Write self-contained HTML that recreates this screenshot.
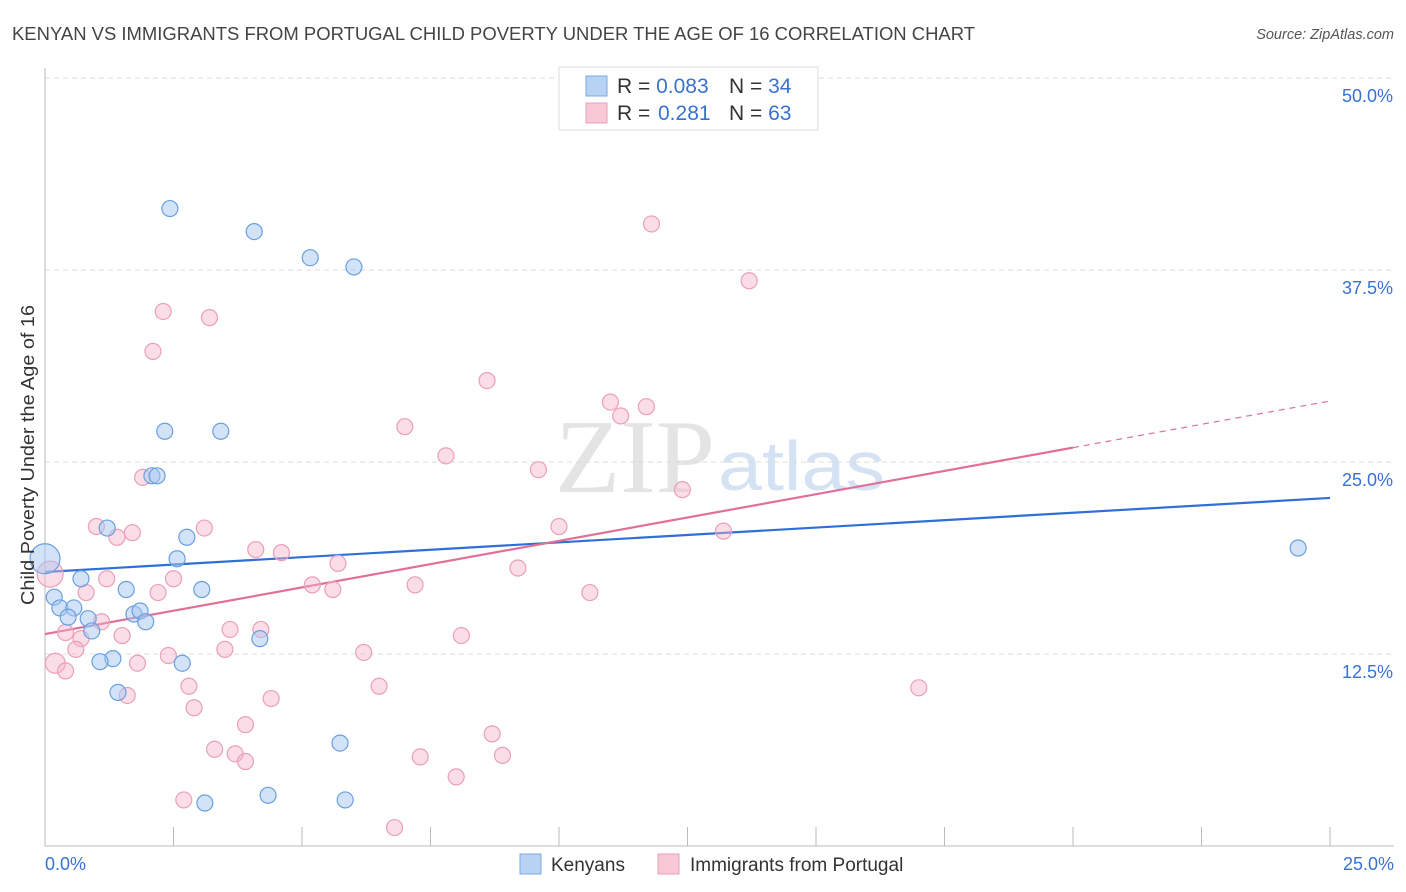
<!DOCTYPE html>
<html><head><meta charset="utf-8"><style>
body{margin:0;background:#fff;font-family:"Liberation Sans",sans-serif;}
svg{display:block}
</style></head><body>
<svg id="chart" width="1406" height="892">
<text x="12" y="40" font-size="18" fill="#444" textLength="963" lengthAdjust="spacingAndGlyphs">KENYAN VS IMMIGRANTS FROM PORTUGAL CHILD POVERTY UNDER THE AGE OF 16 CORRELATION CHART</text>
<text x="1394" y="39" font-size="14.5" fill="#555" font-style="italic" text-anchor="end">Source: ZipAtlas.com</text>
<text x="555" y="492" font-size="105" fill="#e4e4e4" font-family="Liberation Serif,serif" textLength="160" lengthAdjust="spacingAndGlyphs">ZIP</text>
<text x="718" y="490" font-size="70" fill="#d4e2f4" textLength="167" lengthAdjust="spacingAndGlyphs">atlas</text>
<g id="grid"></g>
<g id="axes"></g>
<g id="lines"></g>
<g id="points"></g>
<text x="34" y="455" font-size="18" fill="#333" text-anchor="middle" textLength="300" lengthAdjust="spacingAndGlyphs" transform="rotate(-90 34 455)">Child Poverty Under the Age of 16</text>
<g>
<rect x="559" y="67" width="259" height="63" fill="#fff" stroke="#ddd"/>
<rect x="586" y="76" width="21" height="20" fill="#b8d2f4" stroke="#7aa8e6"/>
<rect x="586" y="103" width="21" height="20" fill="#f8c8d6" stroke="#eaa0b8"/>
<text x="617" y="93" font-size="21" fill="#333">R = <tspan fill="#3a72d0">0.083</tspan><tspan x="729">N = </tspan><tspan fill="#3a72d0">34</tspan></text>
<text x="617" y="120" font-size="21" fill="#333">R = <tspan x="658" fill="#3a72d0">0.281</tspan><tspan x="729">N = </tspan><tspan fill="#3a72d0">63</tspan></text>
</g>
<g>
<rect x="520" y="854" width="21" height="20" fill="#b8d2f4" stroke="#7aa8e6"/>
<text x="551" y="871" font-size="19" fill="#333">Kenyans</text>
<rect x="658" y="854" width="21" height="20" fill="#f8c8d6" stroke="#eaa0b8"/>
<text x="690" y="871" font-size="19" fill="#333">Immigrants from Portugal</text>
</g>
</svg>
<script>
const NS="http://www.w3.org/2000/svg";
const yTicks=[12.5,25,37.5,50];
const yTickLabels=["12.5%","25.0%","37.5%","50.0%"];
const xTickLabels=["0.0%","25.0%"];
const kenyanX=[2.43,4.07,5.16,6.01,2.33,3.42,2.08,2.18,1.21,2.76,2.57,0.0,0.70,1.58,3.05,0.18,0.29,0.56,0.45,0.84,1.73,1.85,1.96,0.91,4.18,1.32,1.07,2.67,1.42,5.74,4.34,3.11,5.84,24.38];
const kenyanY=[41.5,40.0,38.3,37.7,27.0,27.0,24.1,24.1,20.7,20.1,18.7,18.7,17.4,16.7,16.7,16.2,15.5,15.5,14.9,14.8,15.1,15.3,14.6,14.0,13.5,12.2,12.0,11.9,10.0,6.7,3.3,2.8,3.0,19.4];
const kenyanR=[8,8,8,8,8,8,8,8,8,8,8,15,8,8,8,8,8,8,8,8,8,8,8,8,8,8,8,8,8,8,8,8,8,8];
const portX=[11.8,13.7,2.3,3.2,2.1,8.6,11.0,11.7,11.2,7.0,7.8,9.6,1.9,12.4,1.0,3.1,10.0,1.7,1.4,13.2,4.1,4.6,5.7,9.2,0.1,2.5,1.2,7.2,5.2,5.6,2.2,10.6,0.8,1.1,0.4,0.7,1.5,3.6,4.2,8.1,0.6,3.5,2.4,6.2,0.2,1.8,0.4,2.8,6.5,17.0,1.6,4.4,2.9,3.9,8.7,3.3,3.7,3.9,8.9,7.3,8.0,2.7,6.8];
const portY=[40.5,36.8,34.8,34.4,32.2,30.3,28.9,28.6,28.0,27.3,25.4,24.5,24.0,23.2,20.8,20.7,20.8,20.4,20.1,20.5,19.3,19.1,18.4,18.1,17.7,17.4,17.4,17.0,17.0,16.7,16.5,16.5,16.5,14.6,13.9,13.5,13.7,14.1,14.1,13.7,12.8,12.8,12.4,12.6,11.9,11.9,11.4,10.4,10.4,10.3,9.8,9.6,9.0,7.9,7.3,6.3,6.0,5.5,5.9,5.8,4.5,3.0,1.2];
const portR=[8,8,8,8,8,8,8,8,8,8,8,8,8,8,8,8,8,8,8,8,8,8,8,8,13,8,8,8,8,8,8,8,8,8,8,8,8,8,8,8,8,8,8,8,10,8,8,8,8,8,8,8,8,8,8,8,8,8,8,8,8,8,8];
const kenyanTrend=[17.84,22.66];
const portTrend=[13.80,28.97];
const portSolidEnd=20;
const X=v=>45+v/25*1285, Y=v=>846-v/12.5*192;
function mk(tag,attrs,parent){const e=document.createElementNS(NS,tag);for(const k in attrs)e.setAttribute(k,attrs[k]);parent.appendChild(e);return e;}
const grid=document.getElementById('grid'),axes=document.getElementById('axes');
yTicks.forEach((t,i)=>{
 const g=mk('line',{x1:45,x2:1394,y1:Y(t),y2:Y(t),stroke:'#ddd','stroke-dasharray':'5,4'},grid);
 
 
 const l=mk('text',{x:1393,y:Y(t)+24,'font-size':18,fill:'#3a72d0','text-anchor':'end'},axes);
 l.textContent=yTickLabels[i];
 
 
});
mk('line',{x1:45,x2:45,y1:68,y2:846,stroke:'#bbb'},axes);
mk('line',{x1:45,x2:1394,y1:846,y2:846,stroke:'#bbb'},axes);
for(let i=0;i<=10;i++){const x=X(i*2.5);const t=mk('line',{x1:x,x2:x,y1:827,y2:846,stroke:'#bbb'},axes);
 
 }
const xl0=mk('text',{x:45,y:870,'font-size':18,fill:'#3a72d0'},axes);xl0.textContent=xTickLabels[0];


const xl1=mk('text',{x:1394,y:870,'font-size':18,fill:'#3a72d0','text-anchor':'end'},axes);xl1.textContent=xTickLabels[1];


const pts=document.getElementById('points');
portX.forEach((x,i)=>{const c=mk('circle',{cx:X(x),cy:Y(portY[i]),r:portR[i],fill:'rgba(245,180,200,0.45)',stroke:'#eaa0b8','stroke-width':1.2},pts);
 
 });
kenyanX.forEach((x,i)=>{const c=mk('circle',{cx:X(x),cy:Y(kenyanY[i]),r:kenyanR[i],fill:'rgba(168,200,240,0.5)',stroke:'#6a9fe0','stroke-width':1.2},pts);
 
 });
const ln=document.getElementById('lines');
const bl=mk('line',{x1:X(0),y1:Y(kenyanTrend[0]),x2:X(25),y2:Y(kenyanTrend[1]),stroke:'#2f6fd6','stroke-width':2.2},ln);


const py=x=>portTrend[0]+(portTrend[1]-portTrend[0])*x/25;
const pl=mk('line',{x1:X(0),y1:Y(py(0)),x2:X(portSolidEnd),y2:Y(py(portSolidEnd)),stroke:'#e0709a','stroke-width':2.2},ln);


const pd=mk('line',{x1:X(portSolidEnd),y1:Y(py(portSolidEnd)),x2:X(25),y2:Y(py(25)),stroke:'#e0709a','stroke-width':1.2,'stroke-dasharray':'6,5'},ln);


</script>
</body></html>
